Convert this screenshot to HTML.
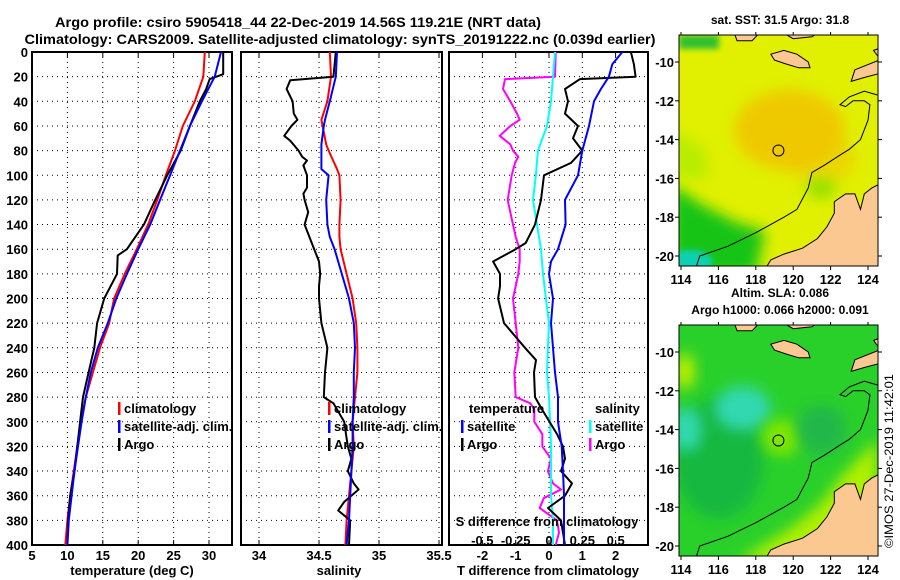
<!DOCTYPE html>
<html><head><meta charset="utf-8"><style>
html,body{margin:0;padding:0;background:#fff;}
svg{display:block;font-family:"Liberation Sans",sans-serif;font-weight:bold;}
</style></head><body>
<svg id="fig" width="900" height="580" viewBox="0 0 900 580" xmlns="http://www.w3.org/2000/svg">
<defs>
<filter id="blur6" x="-50%" y="-50%" width="200%" height="200%"><feGaussianBlur stdDeviation="7"/></filter>
<filter id="blur3" x="-50%" y="-50%" width="200%" height="200%"><feGaussianBlur stdDeviation="3"/></filter>
<clipPath id="c1"><rect x="679" y="35" width="199" height="231"/></clipPath>
<clipPath id="c2"><rect x="679" y="325" width="199" height="231"/></clipPath>
<clipPath id="p1"><rect x="32" y="52" width="200" height="493"/></clipPath>
<clipPath id="p2"><rect x="241" y="52" width="201" height="493"/></clipPath>
<clipPath id="p3"><rect x="449" y="52" width="199" height="493"/></clipPath>
</defs>
<text x="298" y="27" text-anchor="middle" font-size="14" textLength="486" lengthAdjust="spacingAndGlyphs">Argo profile: csiro 5905418_44 22-Dec-2019 14.56S 119.21E (NRT data)</text>
<text x="340" y="44" text-anchor="middle" font-size="14" textLength="631" lengthAdjust="spacingAndGlyphs">Climatology: CARS2009. Satellite-adjusted climatology: synTS_20191222.nc (0.039d earlier)</text>
<g id="panels"></g>
<g id="maps"></g>
<text transform="translate(893,548) rotate(-90)" font-size="12" font-weight="normal" textLength="174" lengthAdjust="spacingAndGlyphs">©IMOS 27-Dec-2019 11:42:01</text>
</svg>
<script>
// ---------- data ----------
const tempDepth = [0,20,40,60,80,100,120,140,160,180,200,220,240,260,280,300,320,340,360,380,400];
const tempClim  = [29.4,29.2,28.0,26.3,25.2,23.9,22.7,21.4,19.8,18.1,16.6,15.9,14.6,13.6,12.6,11.9,11.4,10.9,10.4,10.0,9.7];
const tempSat   = [31.7,30.8,29.0,27.3,25.9,24.5,23.1,21.7,20.0,18.4,16.9,15.7,14.3,13.3,12.6,12.0,11.5,11.0,10.6,10.2,10.0];
const argoDepth = [0,18,22,30,40,60,80,100,120,140,160,165,180,200,220,240,260,280,300,320,340,360,380,400];
const argoTemp  = [32.0,32.0,30.1,29.6,28.7,27.3,26.0,24.1,22.4,20.8,18.4,17.1,17.0,15.2,14.2,13.8,13.0,12.2,11.8,11.4,11.0,10.4,10.1,10.0];

const salDepth = [0,20,40,55,60,75,80,95,100,120,140,150,160,180,200,220,240,260,280,300,320,340,360,380,400];
const salClim  = [34.59,34.60,34.57,34.52,34.53,34.56,34.58,34.65,34.67,34.68,34.67,34.67,34.68,34.73,34.78,34.81,34.82,34.82,34.80,34.78,34.79,34.77,34.75,34.73,34.72];
const salSat   = [34.65,34.64,34.59,34.55,34.54,34.52,34.52,34.52,34.58,34.56,34.57,34.59,34.63,34.69,34.75,34.79,34.80,34.79,34.79,34.78,34.78,34.77,34.76,34.75,34.73];
const argoSDepth = [0,20,23,30,40,50,55,60,68,72,80,85,88,92,100,110,115,120,130,140,150,160,170,180,190,200,220,240,260,280,285,300,320,330,340,350,355,365,372,380,400];
const argoSal    = [34.64,34.62,34.26,34.23,34.28,34.29,34.32,34.27,34.21,34.26,34.33,34.36,34.40,34.37,34.40,34.40,34.37,34.38,34.41,34.38,34.42,34.46,34.50,34.51,34.50,34.50,34.52,34.57,34.55,34.54,34.62,34.71,34.74,34.77,34.74,34.79,34.83,34.71,34.66,34.76,34.75];

const dTDepth = [0,10,20,30,40,60,80,100,120,140,160,170,180,200,220,240,260,280,300,320,340,360,380,400];
const dTSat   = [2.2,1.9,1.8,1.56,1.35,1.2,1.0,0.87,0.48,0.5,0.27,0.06,0.0,0.12,0.06,0.12,0.18,0.27,0.27,0.38,0.42,0.45,0.45,0.45];
const dTArgoDepth = [0,10,20,22,30,40,50,60,70,80,90,100,120,140,155,160,170,180,190,200,220,240,250,260,280,290,310,320,330,340,350,360,370,380,400];
const dTArgo      = [2.46,2.55,2.6,0.93,0.48,0.57,0.48,0.87,0.72,1.0,0.66,-0.15,-0.24,-0.42,-0.7,-1.0,-1.68,-1.47,-1.47,-1.53,-1.35,-0.72,-0.39,-0.45,-0.42,-0.21,0.24,0.42,0.48,0.36,0.69,0.48,-0.03,0.36,0.48];
const dSDepth = [0,20,40,60,80,100,120,140,160,180,200,220,240,260,280,300,320,340,360,380,400];
const dSSat   = [0.045,0.03,0.015,-0.015,-0.083,-0.098,-0.12,-0.09,-0.06,-0.045,-0.023,0.0,-0.008,-0.015,0.0,0.008,0.015,0.015,0.015,0.03,0.03];
const dSArgoDepth = [0,20,22,30,40,50,55,60,68,75,80,85,90,100,120,130,140,150,160,170,180,190,200,220,240,260,280,285,290,300,310,320,330,340,350,355,362,370,380,390,400];
const dSArgo      = [0.05,0.045,-0.33,-0.345,-0.29,-0.24,-0.22,-0.29,-0.37,-0.29,-0.27,-0.23,-0.255,-0.28,-0.31,-0.29,-0.27,-0.25,-0.22,-0.22,-0.23,-0.25,-0.27,-0.25,-0.23,-0.26,-0.25,-0.14,-0.11,-0.11,-0.05,-0.05,0.015,-0.008,0.03,0.09,-0.04,-0.07,0.06,0.075,0.05];

const depthTicks = [0,20,40,60,80,100,120,140,160,180,200,220,240,260,280,300,320,340,360,380,400];
const tempTicks = [5,10,15,20,25,30];
const salTicks = [34,34.5,35,35.5];
const salTickLabels = ["34","34.5","35","35.5"];
const dTTicks = [-2,-1,0,1,2];
const dSTicks = [-0.5,-0.25,0,0.25,0.5];
const dSTickLabels = ["-0.5","-0.25","0","0.25","0.5"];
const mapLonTicks = [114,116,118,120,122,124];
const mapLatTicks = [-10,-12,-14,-16,-18,-20];
const argoLon = 119.21, argoLat = -14.56;

// ---------- helpers ----------
const NS = "http://www.w3.org/2000/svg";
function mk(tag, attrs, parent){const e=document.createElementNS(NS,tag);for(const k in attrs)e.setAttribute(k,attrs[k]);if(parent)parent.appendChild(e);return e;}
const Y0=52, Y1=545;
const yD = d => Y0 + d*(Y1-Y0)/400;
const xT = t => 32 + (t-5)*7.08;
const xS = s => 241 + (s-33.85)*120;
const xDT = t => 549 + t*33.3;
const xDS = s => 549 + s*133.3;
const panels = document.getElementById('panels');

function frame(x0,x1,name,ticks,xf,labels){
  const g=mk('g',{},panels);
  
  
  depthTicks.forEach(d=>{ if(d>0&&d<400){const l=mk('line',{x1:x0,x2:x1,y1:yD(d),y2:yD(d),stroke:'#000','stroke-width':1,'stroke-dasharray':'1,4'},g);
    
    }});
  ticks.forEach((t,i)=>{const x=xf(t); if(x>x0+1&&x<x1-1){const l=mk('line',{x1:x,x2:x,y1:Y0,y2:Y1,stroke:'#000','stroke-width':1,'stroke-dasharray':'1,4'},g);
    
    }
    mk('line',{x1:x,x2:x,y1:Y1,y2:Y1-5,stroke:'#000'},g); mk('line',{x1:x,x2:x,y1:Y0,y2:Y0+5,stroke:'#000'},g);
    const tx=mk('text',{x:x,y:560,'text-anchor':'middle','font-size':13},g); tx.textContent=labels[i];
    
    });
  const r=mk('rect',{x:x0,y:Y0,width:x1-x0,height:Y1-Y0,fill:'none',stroke:'#000','stroke-width':2},g);
  
  
  return g;
}
function line(depths,vals,xf,color,name,clip,w){
  const pts=depths.map((d,i)=>xf(vals[i]).toFixed(1)+','+yD(d).toFixed(1)).join(' ');
  const p=mk('polyline',{points:pts,fill:'none',stroke:color,'stroke-width':w||2,'stroke-linejoin':'round','clip-path':'url(#'+clip+')'},panels);
  
  
}
function txt(x,y,s,name,anchor,size,fill){const t=mk('text',{x:x,y:y,'text-anchor':anchor||'start','font-size':size||13,fill:fill||'#000'},panels);t.textContent=s;
  
  return t;}
function legend(x,y,color,label,name){
  const b=mk('rect',{x:x,y:y-11,width:2.5,height:13,fill:color},panels);
  
  
  txt(x+6,y,label,name);
}

depthTicks.forEach(d=>{txt(28,yD(d)+5,String(d),'y-tick-label','end',13);});

// Panel 1 temperature
frame(32,232,'temperature-panel',tempTicks,xT,tempTicks.map(String));
line(tempDepth,tempClim,xT,'#ff0000','temp-climatology-line','p1');
line(argoDepth,argoTemp,xT,'#000000','temp-argo-line','p1');
line(tempDepth,tempSat,xT,'#0000ff','temp-satellite-line','p1');
txt(132,575,'temperature (deg C)','temperature-axis-title','middle',13);
legend(118,413,'#ff0000','climatology','legend-climatology');
legend(118,431,'#0000ff','satellite-adj. clim.','legend-satellite-adj');
legend(118,449,'#000000','Argo','legend-argo');

// Panel 2 salinity
frame(241,442,'salinity-panel',salTicks,xS,salTickLabels);
line(salDepth,salClim,xS,'#ff0000','sal-climatology-line','p2');
line(argoSDepth,argoSal,xS,'#000000','sal-argo-line','p2');
line(salDepth,salSat,xS,'#0000ff','sal-satellite-line','p2');
txt(339,575,'salinity','salinity-axis-title','middle',13);
legend(328,413,'#ff0000','climatology','legend-climatology-2');
legend(328,431,'#0000ff','satellite-adj. clim.','legend-satellite-adj-2');
legend(328,449,'#000000','Argo','legend-argo-2');

// Panel 3 differences
frame(449,648,'difference-panel',dTTicks,xDT,dTTicks.map(String));
line(dSArgoDepth,dSArgo,xDS,'#ff00ff','sdiff-argo-line','p3');
line(dSDepth,dSSat,xDS,'#00ffff','sdiff-satellite-line','p3');
line(dTArgoDepth,dTArgo,xDT,'#000000','tdiff-argo-line','p3');
line(dTDepth,dTSat,xDT,'#0000ff','tdiff-satellite-line','p3');
txt(548,575,'T difference from climatology','tdiff-axis-title','middle',13);
txt(469,413,'temperature','legend-temperature-header');
legend(461,431,'#0000ff','satellite','legend-t-satellite');
legend(461,449,'#000000','Argo','legend-t-argo');
txt(595,413,'salinity','legend-salinity-header');
legend(589,431,'#00ffff','satellite','legend-s-satellite');
legend(589,449,'#ff00ff','Argo','legend-s-argo');
txt(547,526,'S difference from climatology','sdiff-axis-title','middle',13);
dSTicks.forEach((s,i)=>{txt(xDS(s),545,dSTickLabels[i],'sdiff-tick-label','middle',13);});

// ---------- maps ----------
const maps=document.getElementById('maps');
const MX=lon=>681+(lon-114)*18.7;
function map(top,clipId,name,title1,title2,kind){
  const g=mk('g',{},maps);
  
  
  const MY=lat=>top+27+(-10-lat)*19.4;
  const P=arr=>arr.map(p=>MX(p[0]).toFixed(1)+','+MY(p[1]).toFixed(1)).join(' ');
  const cg=mk('g',{'clip-path':'url(#'+clipId+')'},g);
  if(kind==='sst'){
    mk('rect',{x:679,y:top,width:199,height:231,fill:'#e0f000'},cg);
    mk('ellipse',{cx:MX(119.8),cy:MY(-13.5),rx:55,ry:40,fill:'#f4bc00',filter:'url(#blur6)',opacity:0.75},cg);
    mk('ellipse',{cx:MX(121.5),cy:MY(-15),rx:35,ry:25,fill:'#f0c800',filter:'url(#blur6)',opacity:0.6},cg);
    mk('polygon',{points:P([[113.5,-16.3],[115,-17.3],[117,-18.3],[118.5,-18.7],[118,-21],[113.5,-21]]),fill:'#14c414',filter:'url(#blur6)'},cg);
    mk('polygon',{points:P([[113.5,-13.5],[115.3,-14.5],[115.5,-16],[113.5,-16]]),fill:'#b8ec00',filter:'url(#blur6)'},cg);
    mk('ellipse',{cx:MX(114.5),cy:MY(-20.3),rx:22,ry:12,fill:'#10d0b0',filter:'url(#blur3)'},cg);
    mk('rect',{x:679,y:top,width:40,height:14,fill:'#30c030',filter:'url(#blur3)'},cg);
    mk('ellipse',{cx:MX(121.5),cy:MY(-16.5),rx:15,ry:10,fill:'#90e000',filter:'url(#blur6)'},cg);
  } else {
    mk('rect',{x:679,y:top,width:199,height:231,fill:'#2ad02a'},cg);
    mk('ellipse',{cx:MX(116),cy:MY(-15.5),rx:45,ry:60,fill:'#18b840',filter:'url(#blur6)'},cg);
    mk('ellipse',{cx:MX(117.3),cy:MY(-12.9),rx:28,ry:22,fill:'#30d8b0',filter:'url(#blur6)'},cg);
    mk('ellipse',{cx:MX(114.3),cy:MY(-14),rx:15,ry:22,fill:'#30d8b0',filter:'url(#blur6)'},cg);
    mk('ellipse',{cx:MX(114.2),cy:MY(-11),rx:10,ry:18,fill:'#c0f000',filter:'url(#blur6)'},cg);
    mk('ellipse',{cx:MX(119.4),cy:MY(-14.4),rx:20,ry:18,fill:'#80e800',filter:'url(#blur6)'},cg);
    mk('polygon',{points:P([[117,-20.8],[120,-19],[121.5,-17.8],[122.5,-16.5],[124.5,-14.5],[124.5,-21]]),fill:'#b0f000',filter:'url(#blur6)'},cg);
    mk('ellipse',{cx:MX(121.5),cy:MY(-14),rx:25,ry:25,fill:'#20b848',filter:'url(#blur6)'},cg);
  }
  const c=mk('polyline',{points:P([[114.8,-20.6],[115,-20],[116.5,-19.5],[118,-18.8],[119.5,-18],[120.2,-17.6],[120.8,-16.5],[121,-15.7],[121.7,-15.3],[122.5,-14.8],[123,-14.5],[123.6,-14],[124,-13],[124.1,-12.2],[123.8,-12],[123.2,-12],[122.8,-12.3],[122.5,-12.2],[123,-11.8],[123.8,-11.5],[124.5,-11.7]]),fill:'none',stroke:'#000','stroke-width':1},cg);
  
  
  const land=[
    [[118.3,-21],[118.8,-20.2],[119.5,-19.9],[120.5,-19.6],[121.3,-19.1],[121.8,-18.5],[122.2,-17.8],[122.2,-17.2],[122.8,-16.8],[123.3,-16.8],[123.6,-17.6],[123.8,-16.8],[124.2,-16.5],[124.6,-16.3],[124.6,-21]],
    [[118.8,-9.6],[119.5,-9.4],[120.2,-9.6],[120.8,-10.0],[120.9,-10.3],[120.3,-10.3],[119.6,-10.1],[119.0,-9.9]],
    [[116.8,-8.4],[118.3,-8.4],[117.8,-8.9],[117,-8.9]],
    [[119.3,-8.4],[121.5,-8.4],[121,-8.7],[120,-8.8]],
    [[123.3,-10.4],[124.6,-9.9],[124.6,-10.6],[123.8,-10.8],[123.1,-11]],
    [[124.3,-9.4],[124.6,-9.3],[124.6,-9.8]]
  ];
  land.forEach(l=>{const p=mk('polygon',{points:P(l),fill:'#fbc892',stroke:'#000','stroke-width':1},cg);
    
    });
  const m=mk('circle',{cx:MX(argoLon),cy:MY(argoLat),r:5.5,fill:'none',stroke:'#000','stroke-width':1},g);
  
  
  const fr=mk('rect',{x:679,y:top,width:199,height:231,fill:'none',stroke:'#000','stroke-width':1},g);
  
  
  mapLonTicks.forEach(lon=>{const x=MX(lon);mk('line',{x1:x,x2:x,y1:top+231,y2:top+235,stroke:'#000'},g);mk('line',{x1:x,x2:x,y1:top,y2:top-3,stroke:'#000'},g);
    const t=mk('text',{x:x,y:top+249,'text-anchor':'middle','font-size':13},g);t.textContent=String(lon);
    
    });
  mapLatTicks.forEach(lat=>{const y=MY(lat);mk('line',{x1:675,x2:679,y1:y,y2:y,stroke:'#000'},g);mk('line',{x1:878,x2:882,y1:y,y2:y,stroke:'#000'},g);
    const t=mk('text',{x:674,y:y+5,'text-anchor':'end','font-size':13},g);t.textContent=String(lat);
    
    });
  const t1=mk('text',{x:780,y:title2?top-28:top-11,'text-anchor':'middle','font-size':12},g);t1.textContent=title1;
  
  
  if(title2){const t2=mk('text',{x:780,y:top-11,'text-anchor':'middle','font-size':12},g);t2.textContent=title2;
    
    }
}
map(35,'c1','sst-map','sat. SST: 31.5 Argo: 31.8',null,'sst');
map(325,'c2','sla-map','Altim. SLA: 0.086','Argo h1000: 0.066 h2000: 0.091','sla');
</script>
</body></html>
